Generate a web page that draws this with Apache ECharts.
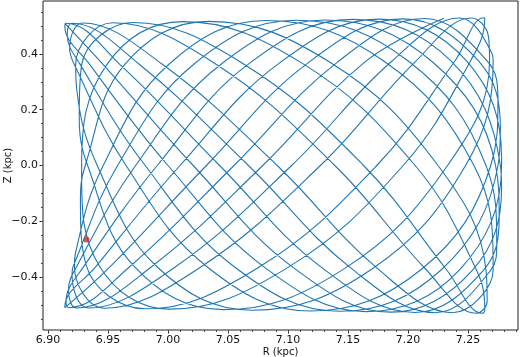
<!DOCTYPE html>
<html>
<head>
<meta charset="utf-8">
<script src="https://cdn.jsdelivr.net/npm/echarts@6/dist/echarts.min.js"></script>
<style>
html,body{margin:0;padding:0;background:#fff;}
#chart{width:520px;height:357px;}
</style>
</head>
<body>
<div id="chart"></div>
<script>
// Orbit samples: R (kpc) and Z (kpc) (incl. turning points at the R edges)
const orbitR = [
6.914, 6.946, 7.021, 7.105, 7.186, 7.254, 7.278,
7.277, 7.236, 7.154, 7.068, 6.991, 6.930, 6.915,
6.917, 6.968, 7.055, 7.141, 7.214, 7.266, 7.275,
7.269, 7.211, 7.119, 7.033, 6.965, 6.922, 6.918,
6.929, 6.995, 7.091, 7.175, 7.237, 7.271, 7.271,
7.255, 7.181, 7.082, 7.001, 6.946, 6.923,
6.922, 6.947, 7.027, 7.127, 7.206, 7.253, 7.267,
7.268, 7.233, 7.147, 7.046, 6.972, 6.933, 6.926,
6.928, 6.971, 7.062, 7.163, 7.232, 7.262, 7.264,
7.257, 7.206, 7.111, 7.012, 6.949, 6.928, 6.928,
6.943, 7.001, 7.099, 7.196, 7.252, 7.264,
7.263, 7.239, 7.174, 7.075, 6.981, 6.932, 6.927,
6.931, 6.964, 7.034, 7.135, 7.225, 7.265, 7.266,
7.257, 7.215, 7.139, 7.039, 6.954, 6.923, 6.924,
6.941, 6.991, 7.070, 7.170, 7.248, 7.271, 7.270,
7.243, 7.186, 7.103, 7.006, 6.934, 6.920,
6.921, 6.958, 7.022, 7.107, 7.201, 7.265, 7.274,
7.269, 7.223, 7.153, 7.067, 6.976, 6.920, 6.916,
6.927, 6.981, 7.056, 7.143, 7.228, 7.275, 7.277,
7.259, 7.196, 7.117, 7.032, 6.952, 6.914, 6.914,
6.940, 7.010, 7.093, 7.176, 7.249, 7.278,
7.278, 7.243, 7.165, 7.081, 7.000, 6.935, 6.914,
6.915, 6.960, 7.043, 7.129, 7.206, 7.263, 7.276,
7.273, 7.220, 7.131, 7.045, 6.973, 6.924, 6.917,
6.924, 6.986, 7.079, 7.164, 7.230
];
const orbitZ = [
0.510, 0.362, 0, -0.368, -0.526, -0.374, -0.080,
0, 0.374, 0.524, 0.367, 0, -0.361, -0.487,
-0.510, -0.363, 0, 0.370, 0.527, 0.375, 0.234,
0, -0.373, -0.522, -0.365, 0, 0.361, 0.419,
0.511, 0.364, 0, -0.371, -0.528, -0.375, -0.366,
0, 0.371, 0.520, 0.364, 0, -0.312,
-0.361, -0.512, -0.365, 0, 0.372, 0.529, 0.464,
0.375, 0, -0.370, -0.517, -0.363, 0, 0.177,
0.361, 0.513, 0.367, 0, -0.373, -0.530, -0.519,
-0.374, 0, 0.369, 0.516, 0.362, 0, -0.026,
-0.362, -0.515, -0.368, 0, 0.374, 0.527,
0.530, 0.374, 0, -0.367, -0.514, -0.361, -0.128,
0, 0.363, 0.517, 0.370, 0, -0.375, -0.487,
-0.530, -0.373, 0, 0.366, 0.512, 0.361, 0.270,
0, -0.364, -0.519, -0.371, 0, 0.375, 0.402,
0.529, 0.372, 0, -0.364, -0.511, -0.387,
-0.361, 0, 0.365, 0.521, 0.372, 0, -0.281,
-0.375, -0.528, -0.370, 0, 0.363, 0.510, 0.469,
0.361, 0, -0.366, -0.523, -0.373, 0, 0.133,
0.374, 0.526, 0.369, 0, -0.362, -0.510, -0.507,
-0.362, 0, 0.368, 0.525, 0.374, 0.027,
0, -0.374, -0.524, -0.367, 0, 0.361, 0.500,
0.510, 0.362, 0, -0.369, -0.527, -0.375, -0.184,
0, 0.373, 0.522, 0.366, 0, -0.361, -0.446,
-0.511, -0.364, 0, 0.371, 0.528
];
// Current position marker
const pointR = [6.932];
const pointZ = [-0.265];

// Tick labels
const xTicks = [6.90, 6.95, 7.00, 7.05, 7.10, 7.15, 7.20, 7.25];
const yTicks = [-0.4, -0.2, 0.0, 0.2, 0.4];
const xMinor = [6.90,6.91,6.92,6.93,6.94,6.95,6.96,6.97,6.98,6.99,7.00,7.01,7.02,7.03,7.04,7.05,7.06,7.07,7.08,7.09,7.10,7.11,7.12,7.13,7.14,7.15,7.16,7.17,7.18,7.19,7.20,7.21,7.22,7.23,7.24,7.25,7.26,7.27,7.28,7.29];
const yMinor = [-0.55,-0.5,-0.45,-0.4,-0.35,-0.3,-0.25,-0.2,-0.15,-0.1,-0.05,0,0.05,0.1,0.15,0.2,0.25,0.3,0.35,0.4,0.45,0.5,0.55];

const X_MIN = 6.8958, X_MAX = 7.2917, Y_MIN = -0.59, Y_MAX = 0.59;
const FONT = 'DejaVu Sans';

const orbitData = orbitR.map((r, i) => [r, orbitZ[i]]);
const pointData = pointR.map((r, i) => [r, pointZ[i]]);

const chart = echarts.init(document.getElementById('chart'), null, {renderer: 'canvas'});
const baseX = {
  type: 'value', min: X_MIN, max: X_MAX, position: 'bottom',
  splitLine: {show: false},
  axisLine: {show: false, onZero: false}
};
const baseY = {
  type: 'value', min: Y_MIN, max: Y_MAX, position: 'left',
  splitLine: {show: false},
  axisLine: {show: false, onZero: false}
};
chart.setOption({
  animation: false,
  backgroundColor: '#ffffff',
  grid: {left: 43, right: 2, top: 1, bottom: 27, containLabel: false, outerBoundsMode: 'none',
    show: true, borderColor: '#222', borderWidth: 1, backgroundColor: 'transparent'},
  xAxis: [
    Object.assign({}, baseX, {
      name: 'R (kpc)', nameLocation: 'middle', nameGap: 17, nameMoveOverlap: false,
      nameTextStyle: {fontFamily: FONT, fontSize: 10, color: '#111', verticalAlign: 'top'},
      axisTick: {show: true, inside: false, length: 3.5, customValues: xTicks, lineStyle: {color: '#222'}},
      axisLabel: {show: true, margin: 5, customValues: xTicks, fontFamily: FONT, fontSize: 11, color: '#111',
        formatter: v => Number(v).toFixed(2)}
    }),
    Object.assign({}, baseX, {
      axisTick: {show: true, inside: false, length: 2, customValues: xMinor, lineStyle: {color: '#444'}},
      axisLabel: {show: false}
    })
  ],
  yAxis: [
    Object.assign({}, baseY, {
      name: 'Z (kpc)', nameLocation: 'middle', nameGap: 30, nameRotate: 90, nameMoveOverlap: false,
      nameTextStyle: {fontFamily: FONT, fontSize: 10, color: '#111'},
      axisTick: {show: true, inside: false, length: 3.5, customValues: yTicks, lineStyle: {color: '#222'}},
      axisLabel: {show: true, margin: 5, customValues: yTicks, fontFamily: FONT, fontSize: 11, color: '#111',
        formatter: v => { const n = Number(v); return (n < 0 ? '\u2212' : '') + Math.abs(n).toFixed(1); }}
    }),
    Object.assign({}, baseY, {
      axisTick: {show: true, inside: false, length: 2, customValues: yMinor, lineStyle: {color: '#444'}},
      axisLabel: {show: false}
    })
  ],
  series: [
    {
      type: 'line', xAxisIndex: 0, yAxisIndex: 0,
      data: orbitData, showSymbol: false, symbol: 'none',
      smooth: 0.4,
      lineStyle: {color: '#1f77b4', width: 1.1},
      z: 2
    },
    {
      type: 'scatter', xAxisIndex: 0, yAxisIndex: 0,
      data: pointData, symbol: 'circle', symbolSize: 6,
      itemStyle: {color: '#d62728'},
      z: 3
    }
  ]
});
</script>
</body>
</html>
